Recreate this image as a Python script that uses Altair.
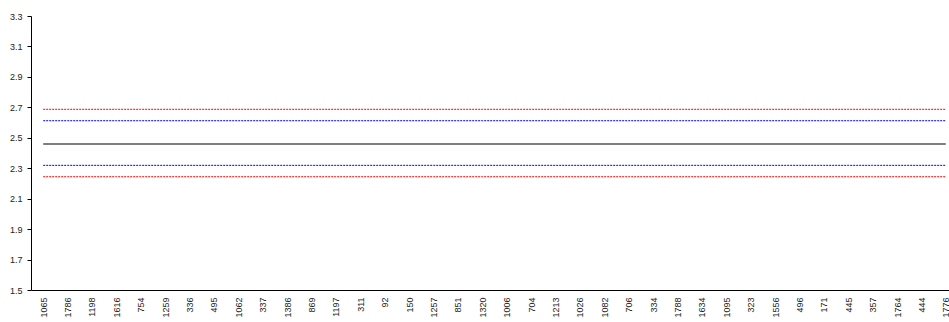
import altair as alt
import pandas as pd

categories = ["1065", "1786", "1198", "1616", "754", "1259", "336", "495", "1062", "337",
              "1386", "869", "1197", "311", "92", "150", "1257", "851", "1320", "1006",
              "704", "1213", "1026", "1082", "706", "334", "1788", "1634", "1095", "323",
              "1556", "496", "171", "445", "357", "1764", "444", "1776"]

series_names = ["Upper red", "Upper blue", "Mean", "Lower blue", "Lower red"]
series_values = [2.687, 2.612, 2.459, 2.319, 2.244]
series_colors = ["#ff0000", "#0000ff", "#555555", "#0000ff", "#ff0000"]
series_dashed = [True, True, False, True, True]

y_ticks = [1.5, 1.7, 1.9, 2.1, 2.3, 2.5, 2.7, 2.9, 3.1, 3.3]

rows = []
for name, val in zip(series_names, series_values):
    for c in categories:
        rows.append({"cat": c, "series": name, "value": val})
df = pd.DataFrame(rows)

x_enc = alt.X("cat:N", sort=categories,
              scale=alt.Scale(type="point", range=[0, 927], padding=0.5),
              axis=alt.Axis(title=None, labelAngle=-90, labelAlign="right", labelBaseline="middle",
                            ticks=False, tickSize=0, labelPadding=7, labelFontSize=9,
                            labelFont="Liberation Sans", labelColor="#222222",
                            domainColor="#000000", grid=False, labelOverlap=False))
y_enc = alt.Y("value:Q", scale=alt.Scale(domain=[1.5, 3.3], nice=False, zero=False),
              axis=alt.Axis(title=None, values=y_ticks, format=".1f", tickSize=4, tickColor="#000000",
                            labelPadding=5, labelFontSize=9, labelFont="Liberation Sans",
                            labelColor="#222222", domainColor="#000000", grid=False))

layers = []
for name, col, dashed in zip(series_names, series_colors, series_dashed):
    sub = df[df["series"] == name]
    if dashed:
        m = alt.Chart(sub).mark_line(color=col, strokeWidth=1, strokeDash=[2, 1], clip=False)
    else:
        m = alt.Chart(sub).mark_line(color=col, strokeWidth=1.6, clip=False)
    layers.append(m.encode(x=x_enc, y=y_enc))

chart = alt.layer(*layers).properties(
    width=918, height=274,
    autosize=alt.AutoSizeParams(type="none"),
    padding={"left": 31, "top": 16, "right": 0, "bottom": 32},
    background="white",
).configure_view(stroke=None)

chart.save("out.html", embed_options={"renderer": "svg", "actions": False})
